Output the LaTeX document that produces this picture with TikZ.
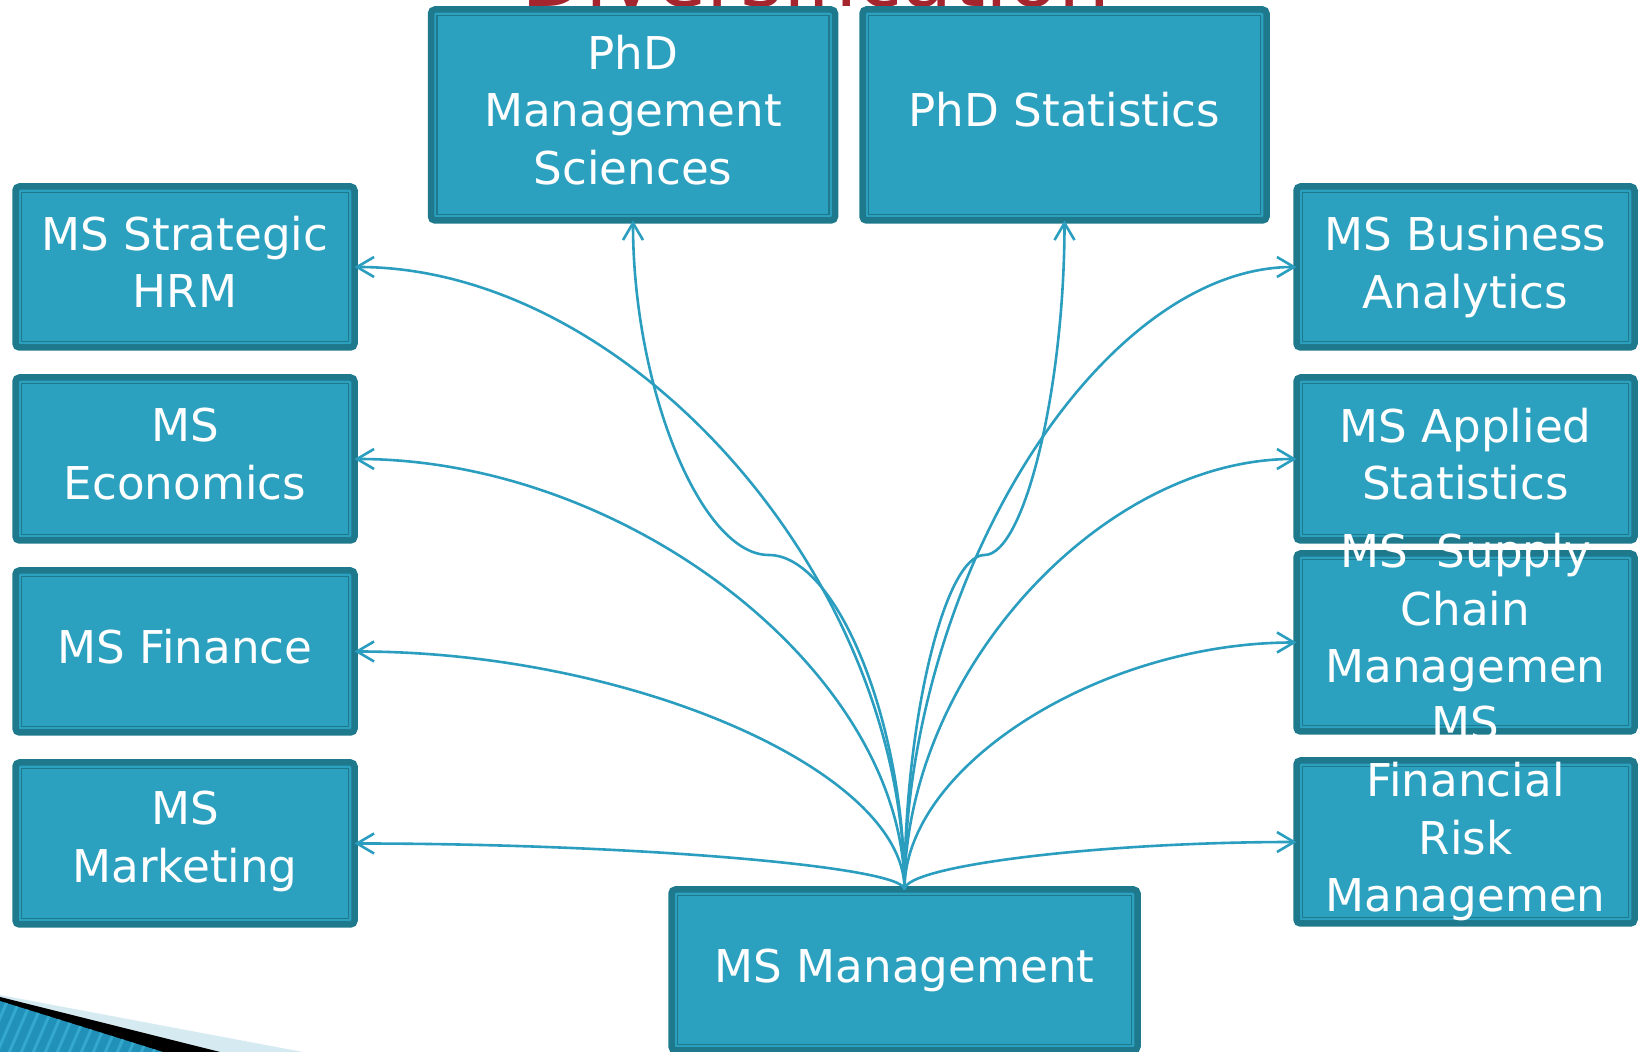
\documentclass[tikz,border=0pt]{standalone}
\usepackage{fontspec}
\setmainfont{DejaVu Sans}
\usetikzlibrary{calc,arrows.meta}
\definecolor{bmain}{RGB}{44,161,191}
\definecolor{bdark}{RGB}{31,121,141}
\definecolor{bline}{RGB}{43,158,192}
\definecolor{tred}{RGB}{165,37,47}
\definecolor{lblue}{RGB}{214,234,241}
\definecolor{sblue}{RGB}{33,145,186}
\definecolor{stripe}{RGB}{52,168,205}
\newcommand\bxf{\fontsize{22.6pt}{28.75pt}\selectfont}
\begin{document}
\begin{tikzpicture}[x=0.5pt,y=-0.5pt,
  box/.style={draw=bdark, fill=bmain, line width=3.25pt, rounded corners=2pt,
    outer sep=0pt, inner sep=0pt},
  lbl/.style={text=white, align=center, font=\bxf, inner sep=0pt},
  conn/.style={bline, line width=1.3pt,
    -{Straight Barb[length=8.5pt,width=10pt,line width=1.3pt]}},
  innerline/.style={bdark, line width=0.75pt}
]
\useasboundingbox (0,0) rectangle (1640,1052);
\clip (0,0) rectangle (1640,1052);

% title (clipped at the top edge, as in the reference)
\node[anchor=base, text=tred, font=\fontsize{41pt}{46pt}\selectfont, inner sep=0pt] (title) at (816,7) {Diversification};

% bottom-left decoration
\fill[lblue] (0,995) -- (303,1052) -- (0,1052) -- cycle;
\fill[black] (0,997) -- (220,1052) -- (0,1052) -- cycle;
\begin{scope}
  \clip (0,1001) -- (163,1052) -- (0,1052) -- cycle;
  \fill[sblue] (0,990) rectangle (170,1052);
  \foreach \i in {0,12,...,204}
    \draw[stripe, line width=1.5pt] (\i-30,1060) -- (\i,990);
\end{scope}

% boxes
\node[box, minimum width=169.5pt, minimum height=80.5pt] (hrm) at (185,267) {};
\node[box, minimum width=169.5pt, minimum height=81.5pt] (eco) at (185,459) {};
\node[box, minimum width=169.5pt, minimum height=81pt] (fin) at (185,651.5) {};
\node[box, minimum width=169.5pt, minimum height=81pt] (mkt) at (185,843.5) {};

\node[box, minimum width=169pt, minimum height=80.5pt] (ba) at (1465.5,267) {};
\node[box, minimum width=169pt, minimum height=81.5pt] (as) at (1465.5,459) {};
\node[box, minimum width=169pt, minimum height=89pt] (sc) at (1465.5,642.5) {};
\node[box, minimum width=169pt, minimum height=81.5pt] (fr) at (1465.5,842) {};

\node[box, minimum width=202pt, minimum height=105.5pt] (phdm) at (633,115) {};
\node[box, minimum width=202pt, minimum height=105.5pt] (phds) at (1064.5,115) {};

\node[box, minimum width=233pt, minimum height=80.5pt] (mm) at (904.5,970) {};

\foreach \n in {hrm,eco,fin,mkt,ba,as,sc,fr,phdm,phds,mm}
  \draw[innerline] ($(\n.south west)+(3.1pt,3.1pt)$) rectangle ($(\n.north east)+(-3.1pt,-3.1pt)$);

% texts
\node[lbl] (hrmt) at ($(hrm)+(0,-5)$) {MS Strategic\\HRM};
\node[lbl] (ecot) at ($(eco)+(0,-5)$) {MS\\Economics};
\node[lbl] (fint) at ($(fin)+(0,-5)$) {MS Finance};
\node[lbl] (mktt) at ($(mkt)+(0,-2)$) {MS\\Marketing};
\node[lbl] (bat) at (ba) {MS Business\\Analytics};
\node[lbl] (ast) at ($(as)+(0,-5)$) {MS Applied\\Statistics};
\node[lbl] (phdmt) at ($(phdm)+(0,-5)$) {PhD\\Management\\Sciences};
\node[lbl] (phdst) at ($(phds)+(0,-5)$) {PhD Statistics};
\node[lbl] (mmt) at (mm) {MS Management};
\node[lbl] (sct) at (1465.5,613) {MS~~Supply\\Chain\\Managemen};
\node[lbl] (frt) at (1465.5,813.5) {MS\\Financial\\Risk\\Managemen};

% connectors to side boxes
\foreach \tg/\an in {hrm/east,eco/east,fin/east,mkt/east,ba/west,as/west,sc/west,fr/west}{
  \coordinate (m) at ($(mm.north)!0.5!(\tg.\an)$);
  \draw[conn] (mm.north) .. controls (m -| mm.north) and (m |- \tg.\an) .. (\tg.\an);
}
% connectors to PhD boxes
\foreach \tg in {phdm,phds}{
  \coordinate (m) at ($(mm.north)!0.5!(\tg.south)$);
  \coordinate (ms) at (m -| mm.north);
  \coordinate (me) at (m -| \tg.south);
  \draw[conn] (mm.north) .. controls ($(mm.north)!0.5!(ms)$) and ($(ms)!0.5!(m)$) .. (m)
     .. controls ($(m)!0.5!(me)$) and ($(\tg.south)!0.5!(me)$) .. (\tg.south);
}
\end{tikzpicture}
\end{document}
